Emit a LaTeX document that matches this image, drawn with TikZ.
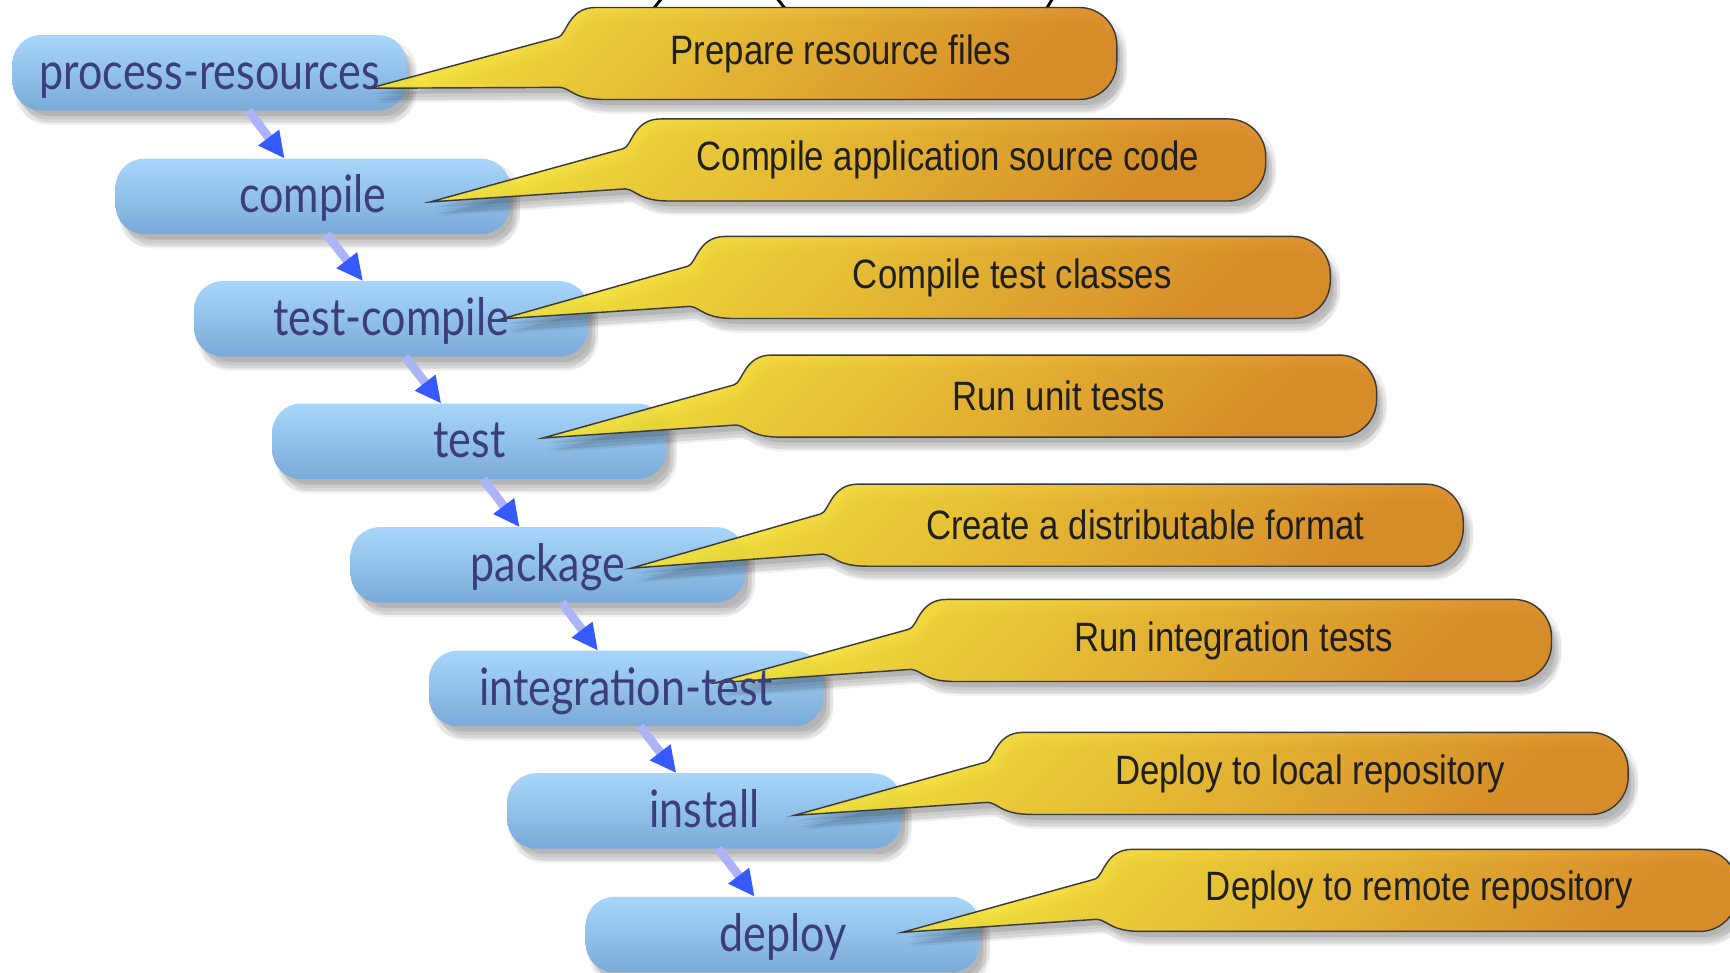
\documentclass[tikz,border=0pt]{standalone}
\usepackage{fontspec}
\setmainfont{Liberation Sans}
\newfontfamily\stagefont{Lato}
\usepackage{graphicx}
\usetikzlibrary{arrows.meta,calc}

\pgfdeclarelayer{boxlayer}
\pgfdeclarelayer{calllayer}
\pgfsetlayers{boxlayer,calllayer,main}

\definecolor{stagetop}{RGB}{168,214,251}
\definecolor{stagebot}{RGB}{122,170,216}
\definecolor{stagetext}{RGB}{60,62,124}
\definecolor{callyellow}{RGB}{244,224,50}
\definecolor{callorange}{RGB}{218,138,30}
\definecolor{calledge}{RGB}{58,58,58}
\definecolor{shaftcol}{RGB}{172,180,245}
\definecolor{tipblue}{RGB}{55,90,255}

\newcommand\tallsans[1]{\scalebox{1}[1.18]{#1}}
% phase names sit on a common baseline below the box centre
\newcommand\stagelabel[1]{\raisebox{-15pt}[0pt][0pt]{\scalebox{1}[1.2]{#1}}}

\begin{document}
\begin{tikzpicture}[x=1pt,y=1pt,
  shadowcopy/.style={preaction={draw=none, fill=black, fill opacity=0.055,
    transform canvas={shift={(#1)}}}},
  softshadow/.style={shadowcopy={6pt,-8pt}, shadowcopy={3pt,-5pt}, shadowcopy={9pt,-11pt},
    shadowcopy={3pt,-11pt}, shadowcopy={9pt,-5pt}, shadowcopy={6pt,-13pt}},
  stage/.style={minimum width=357pt, minimum height=68pt, inner sep=0pt,
    text=stagetext, font=\stagefont\fontsize{39}{44}\selectfont},
  stagebg/.style={softshadow, rounded corners=26pt, top color=stagetop, bottom color=stagebot},
  note/.style={minimum width=576pt, minimum height=74pt, inner sep=0pt,
    text=black!88, font=\fontsize{31.5}{36}\selectfont},
  notebg/.style={softshadow, draw=calledge, line width=1.3pt, top color=callyellow,
    bottom color=callorange, shading angle=45, fill opacity=0.92},
  flow/.style={line width=8pt, draw=shaftcol, -{Triangle[length=24pt,width=22pt,color=tipblue]}},
  stub/.style={line width=2.6pt, line cap=round}
]
\useasboundingbox (0,0) rectangle (1568,881);

% lifecycle phases
\node[stage] (b1) at (190,815)   {\stagelabel{process-resources}};
\node[stage] (b2) at (283.5,703) {\stagelabel{compile}};
\node[stage] (b3) at (354.5,592) {\stagelabel{test-compile}};
\node[stage] (b4) at (425.5,481) {\stagelabel{test}};
\node[stage] (b5) at (496.5,369) {\stagelabel{package}};
\node[stage] (b6) at (567.5,257) {\stagelabel{integration-test}};
\node[stage] (b7) at (638.5,146) {\stagelabel{install}};
\node[stage] (b8) at (709.5,34)  {\stagelabel{deploy}};

% descriptions
\node[note, minimum width=500pt, minimum height=83pt] (c1) at (762,832.5) {\tallsans{Prepare resource files}};
\node[note] (c2) at (859,736)    {\tallsans{Compile application source code}};
\node[note] (c3) at (917.5,629.5){\tallsans{Compile test classes}};
\node[note] (c4) at (959.5,522)  {\tallsans{Run unit tests}};
\node[note] (c5) at (1038,405)   {\tallsans{Create a distributable format}};
\node[note] (c6) at (1118,300.5) {\tallsans{Run integration tests}};
\node[note] (c7) at (1187.5,180) {\tallsans{Deploy to local repository}};
\node[note] (c8) at (1286.5,74)  {\tallsans{Deploy to remote repository}};

% pointer tips of the descriptions
\coordinate (t1) at (335,801);
\coordinate (t2) at (390,698);
\coordinate (t3) at (455,592);
\coordinate (t4) at (492,484);
\coordinate (t5) at (572,366);
\coordinate (t6) at (648,262);
\coordinate (t7) at (720,142);
\coordinate (t8) at (818,36);

% phase order
\draw[flow] ([xshift=35pt]b1.south) -- ([xshift=-25.5pt]b2.north);
\foreach \a/\b in {b2/b3,b3/b4,b4/b5,b5/b6,b6/b7,b7/b8}
  \draw[flow] ([xshift=12.5pt]\a.south) -- ([xshift=-25.5pt]\b.north);

\begin{pgfonlayer}{boxlayer}
  % strokes coming in from above
  \draw[stub] (601,884) -- (593,874);
  \draw[stub] (703,884) -- (711,874);
  \draw[stub] (955,884) -- (949,874);
  % phase boxes
  \foreach \n in {b1,b2,b3,b4,b5,b6,b7,b8}
    \path[stagebg] (\n.south west) rectangle (\n.north east);
\end{pgfonlayer}

\begin{pgfonlayer}{calllayer}
  % speech bubbles: pointed tail flowing into a rounded body
  \foreach \c/\t in {c1/t1,c2/t2,c3/t3,c4/t4,c5/t5,c6/t6,c7/t7,c8/t8}
    \path[notebg] (\t) -- ($(\c.north west)+(-6,-27)$)
      .. controls ($(\c.north west)+(2,-25)$) and ($(\c.north west)+(3,0)$) .. ($(\c.north west)+(28,0)$)
      -- ($(\c.north east)+(-34,0)$) arc[start angle=90,end angle=0,radius=34]
      -- ($(\c.south east)+(0,34)$) arc[start angle=0,end angle=-90,radius=34]
      -- ($(\c.south west)+(36,0)$)
      .. controls ($(\c.south west)+(8,0)$) and ($(\c.south west)+(6,10)$) .. ($(\c.south west)+(-4,11)$)
      -- cycle;
\end{pgfonlayer}
\end{tikzpicture}
\end{document}
